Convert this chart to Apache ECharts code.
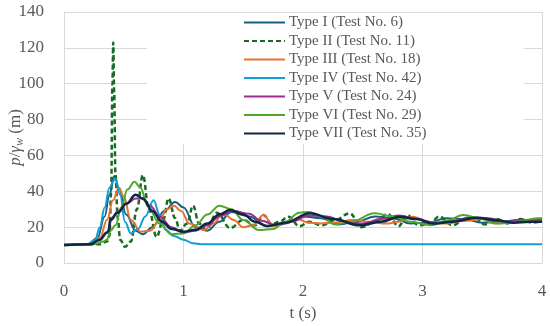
<!DOCTYPE html>
<html>
<head>
<meta charset="utf-8">
<script src="https://cdn.jsdelivr.net/npm/echarts@6/dist/echarts.min.js"></script>
<style>html,body{margin:0;padding:0;background:#fff}#c{width:550px;height:326px}</style>
</head>
<body>
<div id="c"></div>
<script>
var names = ['Type I (Test No. 6)','Type II (Test No. 11)','Type III (Test No. 18)','Type IV (Test No. 42)','Type V (Test No. 24)','Type VI (Test No. 29)','Type VII (Test No. 35)'];
var xTicks = [0,1,2,3,4];
var yTicks = [0,20,40,60,80,100,120,140];

var t1 = [0,0.2,0.28,0.34,0.38,0.42,0.46,0.52,0.6,0.66,0.74,0.84,0.93,1.0,1.1,1.2,1.3,1.4,1.55,1.7,1.85,2.0,2.15,2.3,2.45,2.6,2.75,2.9,3.05,3.2,3.35,3.5,3.65,3.8,3.95,4.0];
var v1 = [10,10.5,14,26,38,48.5,42,27,18,16,20,29,34,31,20,18,23,28.5,26,20.5,22,26,25,21.5,23,26,25,22,22.5,25,24.5,22.5,23,24,23.5,23.5];

var t2 = [0,0.3,0.36,0.38,0.395,0.405,0.412,0.42,0.43,0.45,0.47,0.51,0.56,0.61,0.66,0.71,0.775,0.83,0.875,0.93,0.97,1.03,1.08,1.13,1.19,1.28,1.39,1.5,1.6,1.67,1.74,1.8,1.88,1.97,2.05,2.16,2.27,2.39,2.49,2.6,2.71,2.8,2.87,2.97,3.06,3.14,3.25,3.35,3.43,3.52,3.62,3.72,3.82,3.92,4.0];
var v2 = [10,10.5,12,15,40,100,123,95,50,25,13,9,12,30,49,30,14.5,24,36,25,18,22,32,22,18.5,28,19.5,24,21,26.8,21.5,23,25.8,20.5,23,21,24,27.7,20,23,27.3,20.5,26.8,21,22,26,21,24,25.5,21.5,24.5,22,24.5,22.5,23.5];

var t3 = [0,0.22,0.3,0.36,0.41,0.46,0.5,0.56,0.64,0.72,0.8,0.86,0.92,0.98,1.05,1.17,1.25,1.33,1.42,1.5,1.58,1.67,1.75,1.85,1.95,2.05,2.15,2.25,2.42,2.55,2.7,2.8,2.92,3.05,3.2,3.35,3.5,3.6,3.75,3.9,4.0];
var v3 = [10,10.5,14,24,35,42,37,24,17.5,18,24,30,32,29,22,18.4,22,27.7,24,20,21,26.8,20.5,22.5,24.5,22.5,22,22.5,24,23,22,23,25.8,23,22,23.5,24.5,22,22.5,23.5,23];

var t4 = [0,0.2,0.26,0.3,0.34,0.38,0.43,0.47,0.51,0.56,0.62,0.68,0.75,0.8,0.85,0.92,1.0,1.08,1.15,1.5,2,2.5,3,3.5,4];
var v4 = [10,10.5,13,20,31,42,47,38,23,16.5,19,26,35,27,18.5,15,13,11,10.5,10.5,10.5,10.5,10.5,10.5,10.5];

var t5 = [0,0.22,0.3,0.36,0.4,0.45,0.52,0.6,0.65,0.72,0.8,0.9,1.0,1.1,1.2,1.3,1.42,1.55,1.65,1.78,1.9,2.05,2.2,2.35,2.5,2.65,2.8,2.95,3.1,3.25,3.4,3.55,3.7,3.85,4.0];
var v5 = [10,10.5,13,17,24,29,33,36,36,32,26,20,17,18,21,26,29,27.5,23.5,21,23,26.5,26,23,22,24.5,26.5,24.5,22.5,23.5,25.5,25,23,24,24.5];

var t6 = [0,0.25,0.33,0.36,0.39,0.43,0.48,0.53,0.59,0.64,0.7,0.8,0.9,1.0,1.1,1.2,1.3,1.4,1.5,1.63,1.75,1.85,1.97,2.05,2.15,2.27,2.4,2.6,2.75,2.9,3.07,3.2,3.34,3.5,3.62,3.8,3.96,4.0];
var v6 = [10,10.5,12,13,18,21,31,41,45.3,42,32,22,16,16.5,21,27,32,30,24,18.4,19,23,28,28.5,26,21.5,23,27.7,26,23,21,23.5,26.8,24.5,22,23,25,25];

var t7 = [0,0.22,0.3,0.36,0.375,0.385,0.45,0.52,0.6,0.66,0.74,0.82,0.9,1.0,1.1,1.2,1.3,1.39,1.5,1.6,1.7,1.85,2.06,2.25,2.48,2.65,2.81,2.95,3.09,3.25,3.45,3.6,3.76,3.9,4.0];
var v7 = [10,10.5,13,17,18,24,28,33,38,36,29,23,19,17.5,18.5,22,27,29.5,27,23,20.6,22.5,27.7,24.5,21,23,25.8,24.5,22,23,25.3,24,22.5,23,23];

var times = [t1,t2,t3,t4,t5,t6,t7];
var values = [v1,v2,v3,v4,v5,v6,v7];
var colors = ['#156082','#196B24','#E97132','#0F9ED5','#A02B93','#4EA72E','#0E2841'];
var widths = [2,2.5,2,2,2,2,2.5];

function pairs(t, v){ return t.map(function(x,i){ return [x, v[i]]; }); }

var series = names.map(function(n, i){
  return {
    name: n, type: 'line', data: pairs(times[i], values[i]),
    showSymbol: false, symbol: 'none', smooth: 0.4, smoothMonotone: 'x',
    lineStyle: { color: colors[i], width: widths[i], type: i === 1 ? [5,3] : 'solid' },
    itemStyle: { color: colors[i] },
    emphasis: { disabled: true },
    animation: false
  };
});

var serif = 'Liberation Serif';
var chart = echarts.init(document.getElementById('c'), null, { renderer: 'canvas' });
chart.setOption({
  animation: false,
  backgroundColor: '#fff',
  grid: { left: 64, right: 8, top: 12, bottom: 63, containLabel: false, outerBoundsMode: 'none' },
  legend: {
    orient: 'vertical', left: 147, top: 13,
    padding: [2, 97, 3, 96],
    backgroundColor: '#fff',
    itemWidth: 41, itemHeight: 14, itemGap: 3.5,
    itemStyle: { opacity: 0, borderWidth: 0 },
    textStyle: { fontFamily: serif, fontSize: 15, color: '#595959', lineHeight: 14, padding: [0,0,0,-1] },
    data: names
  },
  xAxis: {
    type: 'value', min: 0, max: 4, interval: 1,
    name: 't (s)', nameLocation: 'middle', nameGap: 41,
    nameTextStyle: { fontFamily: serif, fontSize: 17, color: '#595959' },
    axisLine: { show: true, lineStyle: { color: '#d9d9d9', width: 1 } },
    axisTick: { show: false },
    axisLabel: { fontFamily: serif, fontSize: 17, color: '#595959', margin: 20,
      formatter: function(v){ return xTicks.indexOf(v) >= 0 ? String(v) : ''; } },
    splitLine: { show: true, lineStyle: { color: '#d9d9d9', width: 1 } }
  },
  yAxis: {
    type: 'value', min: 0, max: 140, interval: 20,
    name: '{i|p}/{i|γ}{s|w} (m)', nameLocation: 'middle', nameGap: 38, nameRotate: 90,
    nameMoveOverlap: false,
    nameTextStyle: { fontFamily: serif, fontSize: 17, color: '#595959',
      rich: {
        i: { fontFamily: serif, fontSize: 17, fontStyle: 'italic', color: '#595959' },
        s: { fontFamily: serif, fontSize: 12, fontStyle: 'italic', color: '#595959', padding: [8,0,0,0] }
      } },
    axisLine: { show: true, lineStyle: { color: '#d9d9d9', width: 1 } },
    axisTick: { show: false },
    axisLabel: { fontFamily: serif, fontSize: 17, color: '#595959', margin: 20,
      formatter: function(v){ return yTicks.indexOf(v) >= 0 ? String(v) : ''; } },
    splitLine: { show: true, lineStyle: { color: '#d9d9d9', width: 1 } }
  },
  series: series
});
</script>
</body>
</html>
